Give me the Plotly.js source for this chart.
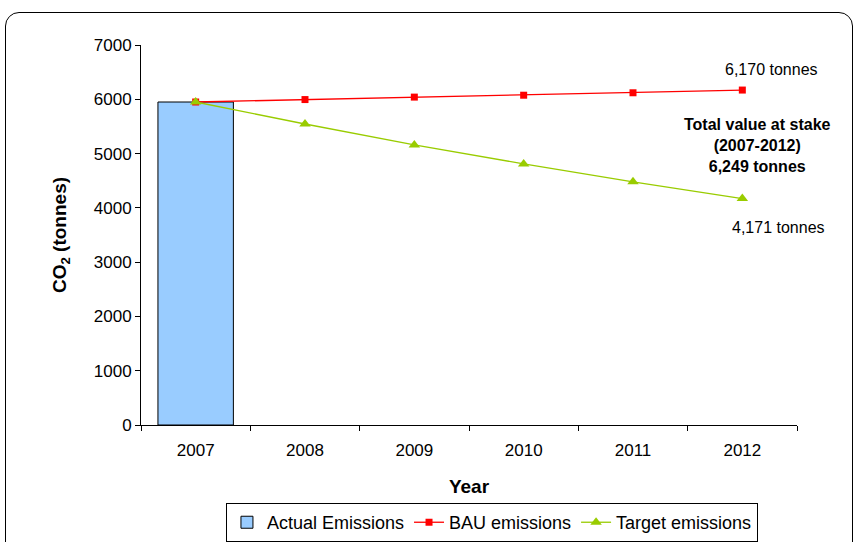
<!DOCTYPE html>
<html>
<head>
<meta charset="utf-8">
<script src="https://cdn.plot.ly/plotly-3.0.1.min.js"></script>
<style>
html,body{margin:0;padding:0;background:#fff;}
#wrap{position:relative;width:854px;height:542px;overflow:hidden;}
#chart{position:absolute;left:0;top:0;width:854px;height:542px;}
#frame{position:absolute;left:5px;top:12px;width:846px;height:560px;border:1px solid #000;border-radius:14px;pointer-events:none;}
</style>
</head>
<body>
<div id="wrap">
<div id="chart"></div>
<div id="frame"></div>
</div>
<script>
const years = ['2007','2008','2009','2010','2011','2012'];
const actualYears = ['2007'];
const actualEmissions = [5950];
const bauEmissions = [5950, 5995, 6040, 6075, 6120, 6170];
const targetEmissions = [5950, 5545, 5160, 4810, 4480, 4171];
const yTicks = [0,1000,2000,3000,4000,5000,6000,7000];

const font = {family: 'Liberation Sans, Arial, sans-serif', color: '#000'};

const traces = [
  {
    type: 'bar', name: 'Actual Emissions', x: actualYears, y: actualEmissions,
    width: 0.69,
    marker: {color: '#99CCFF', line: {color: '#000', width: 1}}
  },
  {
    type: 'scatter', mode: 'lines+markers', name: 'BAU emissions', x: years, y: bauEmissions,
    line: {color: '#FF0000', width: 1.3},
    marker: {symbol: 'square', size: 7, color: '#FF0000'}
  },
  {
    type: 'scatter', mode: 'lines+markers', name: 'Target emissions', x: years, y: targetEmissions,
    line: {color: '#99CC00', width: 1.3},
    marker: {symbol: 'triangle-up', size: 10, color: '#99CC00'}
  }
];

const layout = {
  width: 854, height: 542,
  margin: {l: 141, r: 57, t: 45, b: 117, autoexpand: false},
  paper_bgcolor: '#fff', plot_bgcolor: '#fff',
  font: Object.assign({size: 15}, font),
  showlegend: true,
  legend: {
    orientation: 'h', x: 0.535, xanchor: 'center', y: -0.308, yanchor: 'bottom',
    bordercolor: '#000', borderwidth: 1, font: Object.assign({size: 18}, font),
    traceorder: 'normal', itemwidth: 30, tracegroupgap: 0
  },
  xaxis: {
    type: 'category', range: [-0.5, 5.5],
    showline: true, linecolor: '#000', linewidth: 1,
    ticks: 'outside', tickson: 'boundaries', ticklen: 5, tickcolor: '#000',
    ticklabelstandoff: 10,
    showgrid: false, zeroline: false,
    tickfont: Object.assign({size: 17}, font),
    title: {text: '<b>Year</b>', font: Object.assign({size: 19}, font), standoff: 20}
  },
  yaxis: {
    range: [0, 7000], tickvals: yTicks, ticktext: yTicks.map(String),
    showline: true, linecolor: '#000', linewidth: 1,
    ticks: 'outside', ticklen: 5, tickcolor: '#000',
    showgrid: false, zeroline: false,
    tickfont: Object.assign({size: 17}, font),
    title: {text: '<b>CO<sub>2</sub> (tonnes)</b>', font: Object.assign({size: 19}, font), standoff: 22}
  },
  annotations: [
    {x: 5.27, y: 6557, xref: 'x', yref: 'y', text: '6,170 tonnes', showarrow: false,
     font: Object.assign({size: 16}, font)},
    {x: 5.14, y: 5140, xref: 'x', yref: 'y', showarrow: false,
     text: '<b>Total value at stake</b><br><b>(2007-2012)</b><br><b>6,249 tonnes</b>',
     font: Object.assign({size: 16}, font)},
    {x: 5.33, y: 3630, xref: 'x', yref: 'y', text: '4,171 tonnes', showarrow: false,
     font: Object.assign({size: 16}, font)}
  ]
};

Plotly.newPlot('chart', traces, layout, {displayModeBar: false, staticPlot: true});
</script>
</body>
</html>
